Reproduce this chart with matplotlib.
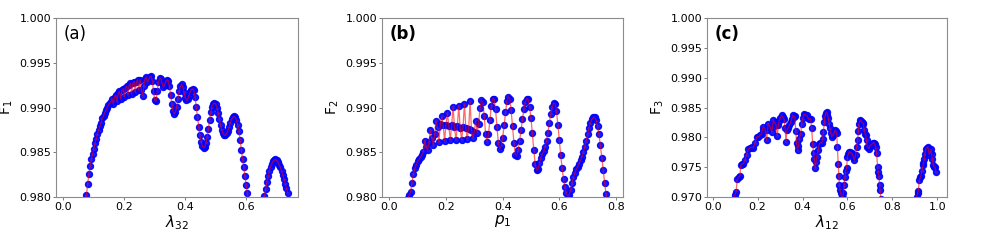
import matplotlib
matplotlib.use("Agg")
import matplotlib.pyplot as plt
from matplotlib.ticker import FormatStrFormatter

# panel (a): F1 vs lambda_32
lam32 = [0.072, 0.076, 0.080, 0.084, 0.088, 0.092, 0.096, 0.100, 0.104, 0.108,
         0.112, 0.116, 0.120, 0.124, 0.128, 0.132, 0.136, 0.140, 0.144, 0.148,
         0.152, 0.156, 0.160, 0.164, 0.168, 0.172, 0.176, 0.180, 0.184, 0.188,
         0.192, 0.196, 0.200, 0.204, 0.208, 0.212, 0.216, 0.220, 0.224, 0.228,
         0.232, 0.236, 0.240, 0.244, 0.248, 0.252, 0.256, 0.260, 0.264, 0.268,
         0.272, 0.276, 0.280, 0.284, 0.288, 0.292, 0.296, 0.300, 0.304, 0.308,
         0.312, 0.316, 0.320, 0.324, 0.328, 0.332, 0.336, 0.340, 0.344, 0.348,
         0.352, 0.356, 0.360, 0.364, 0.368, 0.372, 0.376, 0.380, 0.384, 0.388,
         0.392, 0.396, 0.400, 0.404, 0.408, 0.412, 0.416, 0.420, 0.424, 0.428,
         0.432, 0.436, 0.440, 0.444, 0.448, 0.452, 0.456, 0.460, 0.464, 0.468,
         0.472, 0.476, 0.480, 0.484, 0.488, 0.492, 0.496, 0.500, 0.504, 0.508,
         0.512, 0.516, 0.520, 0.524, 0.528, 0.532, 0.536, 0.540, 0.544, 0.548,
         0.552, 0.556, 0.560, 0.564, 0.568, 0.572, 0.576, 0.580, 0.584, 0.588,
         0.592, 0.596, 0.600, 0.604, 0.608,
         0.656, 0.660, 0.664, 0.668, 0.672, 0.676, 0.680, 0.684, 0.688, 0.692,
         0.696, 0.700, 0.704, 0.708, 0.712, 0.716, 0.720, 0.724, 0.728, 0.732,
         0.736]
F1 = [0.9797, 0.9802, 0.9815, 0.9826, 0.9835, 0.9842, 0.9848, 0.9854, 0.9860, 0.9865,
      0.9870, 0.9875, 0.9879, 0.9883, 0.9888, 0.9891, 0.9894, 0.9897, 0.9900, 0.9903,
      0.9905, 0.9906, 0.9910, 0.9904, 0.9912, 0.9914, 0.9907, 0.9916, 0.9918, 0.9910,
      0.9919, 0.9921, 0.9912, 0.9922, 0.9924, 0.9914, 0.9925, 0.9927, 0.9915, 0.9927,
      0.9929, 0.9917, 0.9929, 0.9931, 0.9919, 0.9931, 0.9920, 0.9913, 0.9924, 0.9932,
      0.9934, 0.9928, 0.9931, 0.9934, 0.9935, 0.9930, 0.9918, 0.9908, 0.9907, 0.9918,
      0.9928, 0.9933, 0.9932, 0.9927, 0.9923, 0.9925, 0.9929, 0.9931, 0.9930, 0.9924,
      0.9914, 0.9904, 0.9896, 0.9893, 0.9895, 0.9901, 0.9910, 0.9918, 0.9924, 0.9926,
      0.9923, 0.9917, 0.9911, 0.9908, 0.9909, 0.9913, 0.9917, 0.9920, 0.9921, 0.9919,
      0.9912, 0.9901, 0.9889, 0.9878, 0.9869, 0.9862, 0.9857, 0.9855, 0.9856, 0.9860,
      0.9867, 0.9876, 0.9886, 0.9895, 0.9901, 0.9904, 0.9905, 0.9904, 0.9900, 0.9894,
      0.9887, 0.9880, 0.9875, 0.9871, 0.9869, 0.9869, 0.9871, 0.9874, 0.9878, 0.9883,
      0.9887, 0.9889, 0.9890, 0.9889, 0.9886, 0.9881, 0.9874, 0.9864, 0.9853, 0.9843,
      0.9833, 0.9823, 0.9813, 0.9804, 0.9795,
      0.9795, 0.9801, 0.9809, 0.9817, 0.9823, 0.9829, 0.9834, 0.9837, 0.9840, 0.9841,
      0.9842, 0.9841, 0.9839, 0.9836, 0.9833, 0.9829, 0.9825, 0.9820, 0.9815, 0.9810,
      0.9805]

# panel (b): F2 vs p1
p1 = [0.065, 0.070, 0.075, 0.080, 0.085, 0.090, 0.095, 0.100, 0.105, 0.110,
      0.115, 0.120, 0.125, 0.130, 0.135, 0.140, 0.145, 0.150, 0.155, 0.160,
      0.165, 0.170, 0.175, 0.180, 0.185, 0.190, 0.195, 0.200, 0.205, 0.210,
      0.215, 0.220, 0.225, 0.230, 0.235, 0.240, 0.245, 0.250, 0.255, 0.260,
      0.265, 0.270, 0.275, 0.280, 0.285, 0.290, 0.295, 0.300, 0.305, 0.310,
      0.315, 0.320, 0.325, 0.330, 0.335, 0.340, 0.345, 0.350, 0.355, 0.360,
      0.365, 0.370, 0.375, 0.380, 0.385, 0.390, 0.395, 0.400, 0.405, 0.410,
      0.415, 0.420, 0.425, 0.430, 0.435, 0.440, 0.445, 0.450, 0.455, 0.460,
      0.465, 0.470, 0.475, 0.480, 0.485, 0.490, 0.495, 0.500, 0.505, 0.510,
      0.515, 0.520, 0.525, 0.530, 0.535, 0.540, 0.545, 0.550, 0.555, 0.560,
      0.565, 0.570, 0.575, 0.580, 0.585, 0.590, 0.595, 0.600, 0.605, 0.610,
      0.615, 0.620, 0.625, 0.630, 0.635, 0.640, 0.645, 0.650, 0.655, 0.660,
      0.665, 0.670, 0.675, 0.680, 0.685, 0.690, 0.695, 0.700, 0.705, 0.710,
      0.715, 0.720, 0.725, 0.730, 0.735, 0.740, 0.745, 0.750, 0.755, 0.760,
      0.765, 0.770]
F2 = [0.9799, 0.9802, 0.9806, 0.9816, 0.9826, 0.9832, 0.9836, 0.9840, 0.9842, 0.9845,
      0.9847, 0.9850, 0.9863, 0.9856, 0.9852, 0.9862, 0.9875, 0.9866, 0.9858, 0.9870,
      0.9885, 0.9878, 0.9861, 0.9882, 0.9890, 0.9880, 0.9863, 0.9881, 0.9894, 0.9879,
      0.9864, 0.9880, 0.9901, 0.9878, 0.9864, 0.9879, 0.9902, 0.9877, 0.9864, 0.9878,
      0.9904, 0.9877, 0.9865, 0.9876, 0.9907, 0.9875, 0.9866, 0.9873, 0.9885, 0.9871,
      0.9882, 0.9899, 0.9908, 0.9906, 0.9890, 0.9870, 0.9862, 0.9870, 0.9886, 0.9902,
      0.9910, 0.9909, 0.9898, 0.9878, 0.9860, 0.9854, 0.9857, 0.9866, 0.9880, 0.9895,
      0.9907, 0.9912, 0.9910, 0.9897, 0.9879, 0.9860, 0.9847, 0.9846, 0.9853, 0.9863,
      0.9875, 0.9887, 0.9898, 0.9906, 0.9910, 0.9909, 0.9901, 0.9888, 0.9871, 0.9852,
      0.9837, 0.9830, 0.9831, 0.9838, 0.9844, 0.9848, 0.9851, 0.9856, 0.9863, 0.9872,
      0.9883, 0.9893, 0.9901, 0.9905, 0.9904, 0.9896, 0.9881, 0.9864, 0.9847, 0.9832,
      0.9820, 0.9811, 0.9804, 0.9801, 0.9802, 0.9808, 0.9816, 0.9822, 0.9827, 0.9831,
      0.9834, 0.9837, 0.9841, 0.9845, 0.9850, 0.9856, 0.9863, 0.9870, 0.9877, 0.9883,
      0.9887, 0.9889, 0.9889, 0.9886, 0.9879, 0.9870, 0.9858, 0.9844, 0.9830, 0.9816,
      0.9803, 0.9792]

# panel (c): F3 vs lambda_12
lam12 = [0.094, 0.099, 0.104, 0.110, 0.116, 0.122, 0.125, 0.131, 0.137, 0.144,
         0.151, 0.159, 0.166, 0.174, 0.181, 0.188, 0.196, 0.204, 0.211, 0.218,
         0.222, 0.226, 0.233, 0.240, 0.244, 0.248, 0.255, 0.263, 0.267, 0.270,
         0.276, 0.282, 0.288, 0.292, 0.297, 0.302, 0.307, 0.313, 0.318, 0.323,
         0.326, 0.331, 0.337, 0.342, 0.347, 0.352, 0.356, 0.361, 0.366, 0.370,
         0.374, 0.378, 0.382, 0.386, 0.392, 0.396, 0.402, 0.407, 0.413, 0.418,
         0.424, 0.430, 0.436, 0.441, 0.445, 0.449, 0.453, 0.456, 0.460, 0.463,
         0.469, 0.475, 0.480, 0.485, 0.490, 0.493, 0.497, 0.500, 0.504, 0.507,
         0.511, 0.515, 0.519, 0.522, 0.526, 0.530, 0.534, 0.537, 0.541, 0.545,
         0.549, 0.552, 0.555, 0.559, 0.562, 0.564, 0.567, 0.570, 0.574, 0.578,
         0.582, 0.585, 0.589, 0.593, 0.596, 0.600, 0.604, 0.608, 0.613, 0.619,
         0.623, 0.626, 0.631, 0.636, 0.641, 0.645, 0.648, 0.651, 0.656, 0.660,
         0.663, 0.667, 0.671, 0.675, 0.678, 0.681, 0.685, 0.688, 0.692, 0.697,
         0.700, 0.703, 0.707, 0.711, 0.715, 0.718, 0.722, 0.726, 0.730, 0.734,
         0.737, 0.740, 0.743, 0.745, 0.750,
         0.903, 0.908, 0.912, 0.915, 0.920, 0.924, 0.927, 0.931, 0.935, 0.938,
         0.942, 0.945, 0.948, 0.952, 0.957, 0.960, 0.964, 0.968, 0.972, 0.975,
         0.978, 0.982, 0.986, 0.990, 0.994]
F3 = [0.9697, 0.9703, 0.9708, 0.9730, 0.9733, 0.9736, 0.9753, 0.9755, 0.9756, 0.9762,
      0.9770, 0.9781, 0.9782, 0.9784, 0.9782, 0.9790, 0.9801, 0.9800, 0.9804, 0.9806,
      0.9813, 0.9818, 0.9814, 0.9795, 0.9812, 0.9823, 0.9818, 0.9809, 0.9818, 0.9829,
      0.9825, 0.9821, 0.9802, 0.9820, 0.9828, 0.9833, 0.9837, 0.9834, 0.9830, 0.9815,
      0.9792, 0.9813, 0.9816, 0.9820, 0.9825, 0.9831, 0.9837, 0.9834, 0.9835, 0.9810,
      0.9790, 0.9778, 0.9785, 0.9797, 0.9806, 0.9822, 0.9833, 0.9839, 0.9838, 0.9837,
      0.9833, 0.9830, 0.9831, 0.9815, 0.9789, 0.9774, 0.9764, 0.9748, 0.9758, 0.9767,
      0.9778, 0.9789, 0.9791, 0.9790, 0.9798, 0.9809, 0.9825, 0.9835, 0.9841, 0.9842,
      0.9838, 0.9832, 0.9822, 0.9815, 0.9808, 0.9801, 0.9804, 0.9804, 0.9808, 0.9812,
      0.9810, 0.9807, 0.9784, 0.9755, 0.9735, 0.9720, 0.9712, 0.9706, 0.9701, 0.9698,
      0.9706, 0.9720, 0.9734, 0.9744, 0.9748, 0.9767, 0.9772, 0.9776, 0.9775, 0.9773,
      0.9770, 0.9767, 0.9762, 0.9770, 0.9784, 0.9796, 0.9810, 0.9822, 0.9829, 0.9828,
      0.9826, 0.9824, 0.9823, 0.9812, 0.9806, 0.9804, 0.9795, 0.9784, 0.9783, 0.9781,
      0.9786, 0.9787, 0.9788, 0.9789, 0.9791, 0.9791, 0.9788, 0.9784, 0.9773, 0.9750,
      0.9742, 0.9736, 0.9720, 0.9711, 0.9696,
      0.9696, 0.9700, 0.9706, 0.9710, 0.9728, 0.9733, 0.9736, 0.9744, 0.9753, 0.9757,
      0.9764, 0.9772, 0.9780, 0.9782, 0.9784, 0.9780, 0.9771, 0.9775, 0.9780, 0.9772,
      0.9763, 0.9753, 0.9751, 0.9750, 0.9742]

panels = [
    (lam32, F1, r'$\lambda_{32}$', 'F$_1$', '(a)', 'normal', (-0.024, 0.770), [0.0, 0.2, 0.4, 0.6], (0.980, 1.000)),
    (p1, F2, r'$p_1$', 'F$_2$', '(b)', 'bold', (-0.026, 0.825), [0.0, 0.2, 0.4, 0.6, 0.8], (0.980, 1.000)),
    (lam12, F3, r'$\lambda_{12}$', 'F$_3$', '(c)', 'bold', (-0.025, 1.043), [0.0, 0.2, 0.4, 0.6, 0.8, 1.0], (0.970, 1.000)),
]
lefts = [56, 382, 707]
widths = [242, 241, 240]

fig = plt.figure(figsize=(9.81, 2.42), dpi=100)
for i, (x, y, xl, yl, tag, wt, xlim, xt, ylim) in enumerate(panels):
    ax = fig.add_axes([lefts[i] / 981, 45 / 242, widths[i] / 981, 179 / 242])
    ax.plot(x, y, 'o', color='blue', ms=4.3, mec='blue', alpha=0.9, zorder=2)
    ax.plot(x, y, '-', color='red', lw=0.9, alpha=0.6, zorder=3)
    ax.set_xlim(*xlim)
    ax.set_ylim(*ylim)
    ax.set_xticks(xt)
    ax.set_yticks([round(ylim[0] + 0.005 * k, 3) for k in range(int(round((ylim[1] - ylim[0]) / 0.005)) + 1)])
    ax.yaxis.set_major_formatter(FormatStrFormatter('%.3f'))
    ax.xaxis.set_major_formatter(FormatStrFormatter('%.1f'))
    ax.tick_params(labelsize=8, length=2, width=0.6, color='0.4', pad=1.5)
    for s in ax.spines.values():
        s.set_color('0.55')
        s.set_linewidth(0.8)
    ax.set_xlabel(xl, fontsize=11, labelpad=1)
    ax.set_ylabel(yl, fontsize=10, labelpad=3)
    ax.text(0.03, 0.96, tag, transform=ax.transAxes, fontsize=12, fontweight=wt, va='top', ha='left')

fig.savefig('out.png', dpi=100)
